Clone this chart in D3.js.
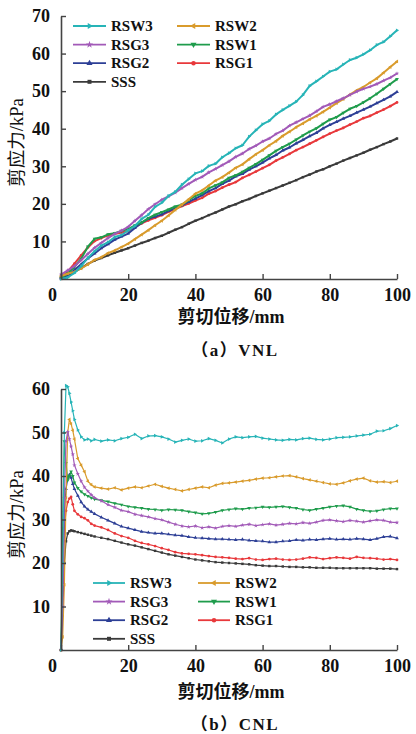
<!DOCTYPE html>
<html>
<head>
<meta charset="utf-8">
<script src="https://cdn.jsdelivr.net/npm/d3@7"></script>
<style>
  body { margin: 0; background: #fff; }
  svg { display: block; }
</style>
</head>
<body>
<svg id="chart" width="416" height="734"></svg>
<script>
// Series names, in legend order (column-major within each panel's legend)
const seriesNames = ["RSW3", "RSW2", "RSG3", "RSW1", "RSG2", "RSG1", "SSS"];
const seriesColors = ["#27b4b7", "#d99b2c", "#a25ab8", "#1f9c4c", "#2d3f96", "#e8383b", "#3a3a3a"];

// Tick labels
const xTicks = [0, 20, 40, 60, 80, 100];
const yTicksVNL = [10, 20, 30, 40, 50, 60, 70];
const yTicksCNL = [10, 20, 30, 40, 50, 60];

// (a) VNL: shear displacement (mm)
const dispVNL = [0, 2, 4, 6, 8, 10, 12, 14, 16, 18, 20, 22, 24, 26, 28, 30, 32, 34, 36, 38, 40,
  42, 44, 46, 48, 50, 52, 54, 56, 58, 60, 62, 64, 66, 68, 70, 72, 74, 76, 78, 80,
  82, 84, 86, 88, 90, 92, 94, 96, 98, 100];

// (a) VNL: shear stress (kPa)
const vnlRSW3 = [0, 0.4, 1.6, 3.4, 5.6, 7.4, 8.9, 9.8, 11.2, 11.7, 12.9, 14.1, 16.0, 17.1, 19.2, 20.3, 22.1, 23.2, 25.1, 26.6, 28.1,
  28.7, 30.1, 30.7, 32.4, 33.5, 34.8, 35.6, 37.9, 39.6, 41.2, 42.1, 43.8, 45.0, 46.1, 47.2, 49.0, 51.4, 52.6, 53.9, 55.2,
  55.8, 57.1, 58.3, 58.9, 59.8, 60.9, 62.3, 63.1, 64.6, 66.2];
const vnlRSW2 = [0.8, 1.4, 1.9, 2.8, 3.9, 5.1, 5.8, 6.9, 7.6, 8.5, 9.4, 10.6, 11.8, 13.0, 14.3, 15.5, 16.9, 18.4, 19.8, 21.2, 22.7,
  23.6, 24.9, 26.2, 27.1, 28.3, 29.6, 30.5, 31.9, 33.2, 34.3, 35.6, 36.7, 38.1, 39.2, 40.4, 41.4, 42.5, 43.4, 44.5, 45.6,
  46.8, 47.9, 49.1, 50.2, 51.1, 52.3, 53.4, 54.9, 56.4, 57.9];
const vnlRSG3 = [1.2, 2.3, 3.4, 5.0, 6.7, 8.3, 9.6, 10.9, 12.0, 12.9, 13.9, 15.5, 17.0, 18.6, 19.9, 21.1, 22.0, 23.0, 24.2, 25.3, 26.4,
  27.2, 28.4, 29.3, 30.3, 31.3, 32.5, 33.4, 34.6, 35.5, 36.6, 37.4, 38.6, 39.5, 40.8, 41.7, 42.6, 43.5, 44.6, 45.8, 46.5,
  47.3, 48.1, 49.0, 49.9, 50.6, 51.2, 51.9, 52.8, 53.6, 54.7];
const vnlRSW1 = [0.3, 1.5, 3.2, 5.4, 8.6, 10.7, 11.1, 11.9, 12.2, 12.8, 13.3, 14.3, 15.0, 16.2, 17.1, 17.8, 18.5, 19.3, 19.8, 21.0, 22.1,
  22.8, 24.1, 24.9, 25.7, 26.9, 27.6, 28.5, 29.6, 30.6, 31.7, 32.9, 34.1, 35.1, 36.0, 37.1, 38.2, 39.2, 40.1, 41.3, 42.4,
  43.1, 44.2, 45.3, 46.0, 47.0, 48.1, 49.3, 50.6, 51.9, 53.2];
const vnlRSG2 = [0.2, 0.9, 2.4, 3.9, 5.5, 6.8, 8.2, 9.3, 10.5, 11.3, 12.1, 13.6, 15.0, 16.0, 16.6, 17.2, 18.1, 18.8, 19.6, 20.5, 21.4,
  22.3, 23.4, 24.2, 25.3, 26.2, 27.3, 28.0, 29.1, 30.0, 31.0, 32.1, 33.0, 34.2, 35.0, 36.1, 37.0, 38.0, 38.9, 40.1, 41.0,
  41.8, 42.7, 43.4, 44.3, 45.1, 45.9, 46.8, 47.7, 48.6, 49.8];
const vnlRSG1 = [0.4, 2.0, 4.1, 6.3, 8.4, 10.1, 10.9, 11.6, 12.0, 12.4, 12.8, 13.8, 14.8, 15.6, 16.3, 17.0, 17.9, 18.6, 19.4, 20.1, 20.9,
  21.6, 22.7, 23.4, 24.3, 25.1, 25.8, 26.9, 27.7, 28.6, 29.5, 30.4, 31.5, 32.4, 33.3, 34.3, 35.1, 36.0, 36.9, 37.8, 38.7,
  39.5, 40.2, 41.1, 41.9, 42.8, 43.4, 44.3, 45.1, 46.0, 47.0];
const vnlSSS = [0, 1.0, 1.9, 2.9, 4.0, 4.9, 5.6, 6.3, 7.0, 7.6, 8.2, 8.9, 9.6, 10.2, 10.9, 11.5, 12.3, 13.1, 13.8, 14.7, 15.5,
  16.2, 17.0, 17.7, 18.5, 19.3, 19.9, 20.7, 21.3, 22.1, 22.8, 23.5, 24.2, 24.9, 25.6, 26.3, 27.1, 27.8, 28.6, 29.2, 30.0,
  30.7, 31.5, 32.2, 32.9, 33.6, 34.4, 35.1, 35.9, 36.6, 37.4];

// (b) CNL: shear displacement (mm), denser near the peak
const dispCNL = [0, 0.5, 1, 1.5, 2, 2.5, 3, 3.5, 4, 5, 6, 7, 8, 9,
  10, 12, 14, 16, 18, 20, 22, 24, 26, 28, 30, 32, 34, 36, 38, 40,
  42, 44, 46, 48, 50, 52, 54, 56, 58, 60, 62, 64, 66, 68, 70, 72, 74, 76, 78, 80,
  82, 84, 86, 88, 90, 92, 94, 96, 98, 100];

// (b) CNL: shear stress (kPa)
const cnlRSW3 = [0, 20, 50, 60.8, 60.5, 59.0, 57.0, 55.0, 53.0, 50.6, 49.0, 48.3, 48.5, 48.1,
  48.4, 48.0, 48.3, 48.1, 48.6, 48.9, 49.6, 48.6, 49.2, 49.3, 49.0, 48.5, 47.8, 48.2, 48.5, 48.0,
  48.1, 48.6, 48.2, 47.6, 48.5, 49.0, 48.8, 49.0, 49.1, 48.7, 48.5, 48.3, 48.2, 48.4, 48.3, 48.6, 48.7, 48.4, 48.3, 48.5,
  48.8, 48.9, 49.0, 49.2, 49.4, 49.6, 50.3, 50.4, 50.9, 51.6];
const cnlRSW2 = [0, 3, 15, 35, 50, 53.0, 52.0, 50.5, 48.5, 44.0, 42.5, 41.0, 38.8, 38.0,
  37.5, 37.2, 37.0, 37.3, 36.8, 37.2, 37.5, 37.3, 37.7, 38.1, 37.6, 37.2, 36.9, 36.6, 36.9, 37.2,
  37.5, 37.3, 37.9, 38.3, 38.4, 38.6, 38.8, 39.0, 39.3, 39.5, 39.6, 39.8, 40.0, 40.1, 39.8, 39.4, 39.1, 38.8, 38.5, 38.2,
  38.1, 38.4, 38.9, 39.3, 39.5, 38.9, 38.6, 38.7, 38.5, 38.8];
const cnlRSG3 = [0, 10, 35, 48, 50.2, 48.5, 46.8, 45.0, 42.5, 40.5, 38.8, 37.4, 36.5, 35.7,
  35.0, 34.3, 33.4, 32.8, 32.1, 31.8, 31.2, 30.9, 30.6, 30.2, 29.9, 29.4, 28.9, 28.5, 28.3, 28.5,
  28.1, 28.3, 28.0, 28.4, 28.6, 28.4, 28.7, 28.9, 28.6, 28.8, 29.0, 28.7, 28.9, 29.1, 29.0, 29.3, 29.1, 29.4, 29.8, 29.9,
  29.7, 29.5, 29.8, 29.6, 29.4, 29.7, 29.9, 29.8, 29.4, 29.3];
const cnlRSW1 = [0, 28, 48, 43, 39, 40.0, 41.0, 40.0, 38.5, 37.2, 36.4, 35.8, 35.4, 35.0,
  34.7, 34.4, 34.1, 33.7, 33.4, 33.0, 32.8, 32.6, 32.4, 32.3, 32.1, 32.3, 32.2, 32.1, 31.8, 31.6,
  31.3, 31.4, 31.7, 32.1, 32.3, 32.5, 32.4, 32.6, 32.7, 32.9, 32.8, 32.9, 33.0, 32.8, 32.6, 32.3, 32.1, 32.4, 32.6, 32.9,
  33.1, 33.2, 32.9, 32.4, 32.1, 31.9, 32.0, 32.3, 32.5, 32.5];
const cnlRSG2 = [0, 15, 32, 37, 39.5, 40.3, 39.6, 38.2, 37.0, 35.5, 34.0, 33.0, 32.3, 31.8,
  31.3, 30.5, 29.8, 29.1, 28.4, 28.0, 27.6, 27.2, 27.0, 26.8, 26.8, 26.6, 26.4, 26.3, 26.0, 25.8,
  25.7, 25.6, 25.5, 25.5, 25.4, 25.3, 25.4, 25.2, 25.1, 25.0, 24.8, 24.8, 25.0, 25.1, 25.3, 25.2, 25.4, 25.3, 25.5, 25.6,
  25.4, 25.5, 25.4, 25.6, 25.5, 25.3, 25.6, 26.0, 26.1, 25.7];
const cnlRSG1 = [0, 12, 28, 32, 34, 34.8, 35.2, 33.5, 32.0, 31.2, 30.6, 30.3, 29.8, 29.0,
  28.6, 28.2, 27.6, 26.8, 26.2, 25.8, 25.1, 24.6, 24.3, 23.9, 23.4, 23.0, 22.5, 22.2, 22.1, 22.0,
  21.8, 21.6, 21.4, 21.3, 21.2, 21.0, 20.9, 21.1, 20.8, 20.7, 20.9, 21.0, 20.8, 20.7, 20.8, 21.0, 21.3, 21.2, 20.9, 21.1,
  21.3, 21.2, 21.0, 21.4, 21.2, 21.1, 21.0, 20.8, 20.9, 20.7];
const cnlSSS = [0, 8, 20, 25, 26.8, 27.3, 27.5, 27.4, 27.3, 27.1, 26.9, 26.7, 26.5, 26.3,
  26.1, 25.8, 25.5, 25.1, 24.7, 24.3, 24.0, 23.6, 23.2, 22.8, 22.4, 22.0, 21.7, 21.4, 21.1, 20.8,
  20.6, 20.4, 20.2, 20.1, 20.0, 19.9, 19.8, 19.7, 19.5, 19.4, 19.3, 19.3, 19.2, 19.1, 19.1, 19.0, 19.0, 18.9, 18.9, 18.9,
  18.8, 18.8, 18.8, 18.8, 18.8, 18.8, 18.7, 18.7, 18.7, 18.6];

const vnlSeries = [vnlRSW3, vnlRSW2, vnlRSG3, vnlRSW1, vnlRSG2, vnlRSG1, vnlSSS];
const cnlSeries = [cnlRSW3, cnlRSW2, cnlRSG3, cnlRSW1, cnlRSG2, cnlRSG1, cnlSSS];

// Marker shape per series: [symbol type, rotation in degrees]
const markers = [
  [d3.symbolTriangle, 90],   // RSW3
  [d3.symbolTriangle, -90],  // RSW2
  [d3.symbolStar, 0],        // RSG3
  [d3.symbolTriangle, 180],  // RSW1
  [d3.symbolTriangle, 0],    // RSG2
  [d3.symbolCircle, 0],      // RSG1
  [d3.symbolSquare, 0]       // SSS
];

const latin = "'Liberation Serif', 'Times New Roman', serif";
const cjk = "'Liberation Serif', 'Noto Sans CJK SC', serif";

const svg = d3.select("#chart");

function drawPanel(opt) {
  const g = svg.append("g");
  const x = d3.scaleLinear().domain([0, 100]).range([61, 397]);
  const y = d3.scaleLinear().domain([0, opt.yMax]).range([opt.bottom, opt.top]);

  // series lines, drawn back to front
  const order = [6, 5, 4, 3, 1, 2, 0];
  const line = d3.line().x((d, i) => x(opt.disp[i])).y(d => y(d));
  order.forEach(k => {
    const vals = opt.series[k];
    const sg = g.append("g");
    sg.append("path")
      .attr("d", line(vals))
      .attr("fill", "none")
      .attr("stroke", seriesColors[k])
      .attr("stroke-width", opt.lineWidth)
      .attr("stroke-linejoin", "round");
    const sym = d3.symbol().type(markers[k][0]).size(opt.markerSize);
    sg.selectAll("path.m")
      .data(vals)
      .join("path")
      .attr("class", "m")
      .attr("d", sym)
      .attr("fill", seriesColors[k])
      .attr("transform", (d, i) => `translate(${x(opt.disp[i])},${y(d)}) rotate(${markers[k][1]})`);
  });

  // axes with inward ticks
  const xAxis = d3.axisBottom(x).tickValues(xTicks).tickSizeInner(-5).tickSizeOuter(0).tickPadding(9);
  const yAxis = d3.axisLeft(y).tickValues(opt.yTicks).tickSizeInner(-5).tickSizeOuter(0).tickPadding(11);

  const gx = g.append("g").attr("transform", `translate(0,${opt.bottom})`).call(xAxis);
  const gy = g.append("g").attr("transform", "translate(61,0)").call(yAxis);
  [gx, gy].forEach(a => {
    a.select(".domain").attr("stroke", "#444").attr("stroke-width", 1.6);
    a.selectAll(".tick line").attr("stroke", "#444").attr("stroke-width", 1.4);
    a.selectAll(".tick text")
      .attr("fill", "#111")
      .style("font-family", latin)
      .style("font-weight", "bold")
      .style("font-size", "18px");
  });
  gx.selectAll(".tick text").attr("dy", "0.71em");
  // the "0" label sits left of the origin
  gx.selectAll(".tick").filter(d => d === 0).select("text").attr("dx", "-9");

  // axis titles
  g.append("text")
    .attr("transform", `translate(23,${(opt.top + opt.bottom) / 2 - 5}) rotate(-90)`)
    .attr("text-anchor", "middle")
    .style("font-family", cjk)
    .style("font-size", "18.5px")
    .attr("fill", "#111")
    .text("剪应力/kPa");

  g.append("text")
    .attr("x", 231)
    .attr("y", opt.xTitleY)
    .attr("text-anchor", "middle")
    .style("font-family", cjk)
    .style("font-weight", "bold")
    .style("font-size", "18px")
    .attr("fill", "#111")
    .text("剪切位移/mm");

  g.append("text")
    .attr("x", 235)
    .attr("y", opt.captionY)
    .attr("text-anchor", "middle")
    .style("font-family", cjk)
    .style("font-weight", "bold")
    .style("font-size", "17px")
    .style("letter-spacing", "1.5px")
    .attr("fill", "#111")
    .text(opt.caption);

  // legend: two columns
  const cols = [[0, 2, 4, 6], [1, 3, 5]];
  cols.forEach((col, ci) => {
    col.forEach((k, ri) => {
      const lx = opt.legend.x[ci];
      const ly = opt.legend.y + ri * opt.legend.dy;
      const lg = g.append("g");
      lg.append("line")
        .attr("x1", lx).attr("x2", lx + opt.legend.len)
        .attr("y1", ly).attr("y2", ly)
        .attr("stroke", seriesColors[k]).attr("stroke-width", 1.8);
      lg.append("path")
        .attr("d", d3.symbol().type(markers[k][0]).size(16)())
        .attr("fill", seriesColors[k])
        .attr("transform", `translate(${lx + opt.legend.len / 2},${ly}) rotate(${markers[k][1]})`);
      lg.append("text")
        .attr("x", lx + opt.legend.len + 5)
        .attr("y", ly)
        .attr("dy", "0.35em")
        .style("font-family", latin)
        .style("font-weight", "bold")
        .style("font-size", "15px")
        .attr("fill", "#111")
        .text(seriesNames[k]);
    });
  });
}

drawPanel({
  disp: dispVNL, series: vnlSeries, yMax: 70, yTicks: yTicksVNL,
  top: 16, bottom: 279, xTitleY: 323, captionY: 356, caption: "（a）VNL",
  lineWidth: 2.0, markerSize: 6,
  legend: { x: [73, 177], y: 26, dy: 18.6, len: 33 }
});

drawPanel({
  disp: dispCNL, series: cnlSeries, yMax: 60, yTicks: yTicksCNL,
  top: 389, bottom: 650, xTitleY: 698, captionY: 730, caption: "（b）CNL",
  lineWidth: 1.2, markerSize: 6,
  legend: { x: [93, 198], y: 583, dy: 18.6, len: 32 }
});
</script>
</body>
</html>
